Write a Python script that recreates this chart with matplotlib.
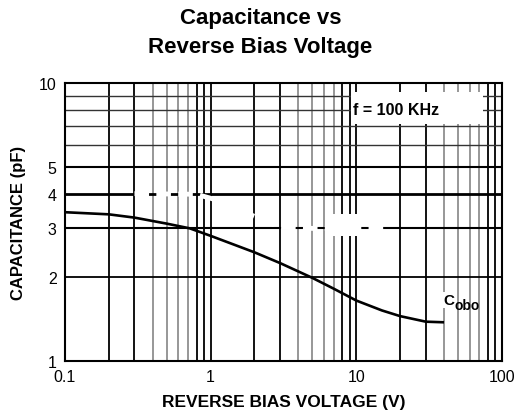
import matplotlib
matplotlib.use("Agg")
import matplotlib.pyplot as plt
from matplotlib.patches import Rectangle

plt.rcParams['font.family'] = ['Liberation Sans', 'DejaVu Sans']

# Data
voltage = [0.1, 0.2, 0.3, 0.5, 0.72, 1, 2, 3, 5, 7, 10, 15, 20, 30, 40]
cap_cobo = [3.43, 3.37, 3.28, 3.12, 3.0, 2.82, 2.46, 2.25, 1.99, 1.82, 1.65, 1.52, 1.45, 1.385, 1.378]
# faint erased trace (scan artifact)
ghost_v = [0.3, 0.8, 1.3, 1.9, 3.0, 5.0, 16]
ghost_c = [4.0, 3.98, 3.7, 3.35, 3.03, 3.0, 3.0]

x_ticks = [0.1, 1, 10, 100]
x_ticklabels = ["0.1", "1", "10", "100"]
y_ticks = [1, 2, 3, 4, 5, 10]
y_ticklabels = ["1", "2", "3", "4", "5", "10"]

fig = plt.figure(figsize=(5.24, 4.14), dpi=100)
ax = fig.add_axes([0.124, 0.1256, 0.834, 0.6714])
ax.set_xscale('log')
ax.set_yscale('log')
ax.set_xlim(0.1, 100)
ax.set_ylim(1, 10)

# grid lines
for dec in [0.1, 1, 10]:
    for m in range(2, 10):
        v = dec * m
        grey = m in (4, 5, 6, 7)
        col = '#7a7a7a' if grey else 'black'
        lw = 1.1 if grey else 1.3
        ax.axvline(v, color=col, lw=lw, zorder=1)
    if dec > 0.1:
        ax.axvline(dec, color='black', lw=1.3, zorder=1)
for m in range(2, 10):
    lw = {4: 2.0, 3: 1.5, 5: 1.5, 2: 1.3}.get(m, 1.0)
    col = 'black' if m <= 5 else '#333333'
    ax.axhline(m, color=col, lw=lw, zorder=1)

# erased trace
ax.plot(ghost_v, ghost_c, color='white', lw=3.5, dashes=(3, 1.5), zorder=2)
ax.add_patch(Rectangle((0.61, 0.45), 0.06, 0.08, transform=ax.transAxes,
                       facecolor='white', edgecolor='none', zorder=2))

# main curve
ax.plot(voltage, cap_cobo, color='black', lw=1.9, zorder=3, solid_capstyle='butt')

# frequency box
ax.add_patch(Rectangle((0.654, 0.853), 0.303, 0.115, transform=ax.transAxes,
                       facecolor='white', edgecolor='none', zorder=4))
ax.text(0.660, 0.906, "f = 100 KHz", transform=ax.transAxes, fontsize=11.5,
        fontweight='bold', ha='left', va='center', zorder=5)

ax.text(39.5, 1.655, "C", fontsize=11, fontweight='bold', ha='left', va='center', zorder=5,
        bbox=dict(facecolor='white', edgecolor='none', pad=0.5))
ax.text(47.5, 1.585, "obo", fontsize=10, fontweight='bold', ha='left', va='center', zorder=5)

ax.set_xticks(x_ticks)
ax.set_xticklabels(x_ticklabels)
ax.set_yticks(y_ticks)
ax.set_yticklabels(y_ticklabels)
ax.minorticks_off()
ax.tick_params(length=0, labelsize=11.5, pad=6)
for s in ax.spines.values():
    s.set_linewidth(1.5)
    s.set_zorder(6)

ax.set_xlabel("REVERSE BIAS VOLTAGE (V)", fontsize=12.5, fontweight='bold', labelpad=7)
ax.set_ylabel("CAPACITANCE (pF)", fontsize=12, fontweight='bold', labelpad=9)

fig.text(0.497, 0.956, "Capacitance vs", fontsize=16, fontweight='bold', ha='center', va='center')
fig.text(0.497, 0.886, "Reverse Bias Voltage", fontsize=16, fontweight='bold', ha='center', va='center')

fig.savefig("out.png", dpi=100)
